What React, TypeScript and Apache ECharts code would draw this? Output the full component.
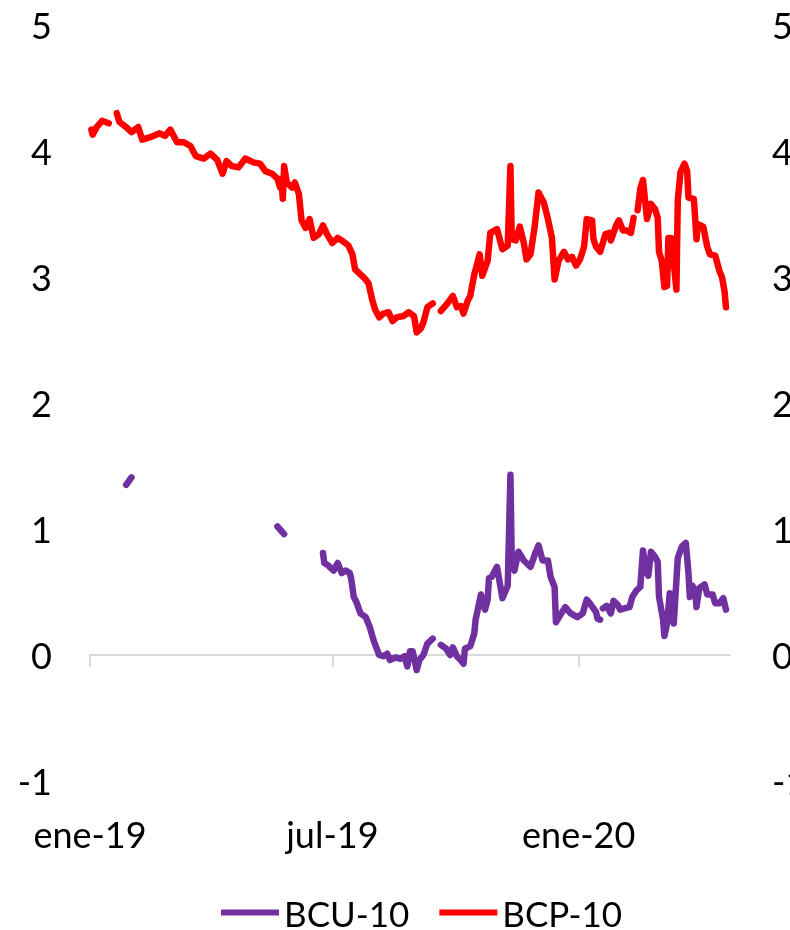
import React, { useRef, useEffect } from 'react';
import * as echarts from 'echarts';

// Series names and colours (legend order)
const seriesNames = ['BCU-10', 'BCP-10'];
const seriesColors = ['#7030A0', '#FF0000'];

// X axis: range and labelled ticks
const axisStart = '2019-01-01';
const axisEnd = '2020-04-23';
const xTickDates = ['2019-01-01', '2019-07-01', '2020-01-01'];
const xTickLabels = ['ene-19', 'jul-19', 'ene-20'];

// Y axis
const yMin = -1;
const yMax = 5;
const yStep = 1;

// BCU-10 (null = no data)
const bcu10: [string, number | null][] = [
  ['2019-01-28', 1.35], ['2019-02-01', 1.41], ['2019-02-10', null],
  ['2019-05-21', 1.02], ['2019-05-26', 0.96], ['2019-06-10', null],
  ['2019-06-24', 0.81], ['2019-06-25', 0.73], ['2019-06-28', 0.71], ['2019-07-02', 0.67],
  ['2019-07-05', 0.73], ['2019-07-08', 0.65], ['2019-07-11', 0.67], ['2019-07-14', 0.65],
  ['2019-07-15', 0.61], ['2019-07-17', 0.46], ['2019-07-19', 0.42], ['2019-07-22', 0.33],
  ['2019-07-26', 0.30], ['2019-07-29', 0.22], ['2019-08-01', 0.11], ['2019-08-05', 0.00],
  ['2019-08-08', -0.01], ['2019-08-11', 0.01], ['2019-08-13', -0.04], ['2019-08-17', -0.02],
  ['2019-08-21', -0.03], ['2019-08-24', -0.01], ['2019-08-26', -0.09], ['2019-08-28', 0.03],
  ['2019-08-30', 0.03], ['2019-09-02', -0.12], ['2019-09-04', -0.04], ['2019-09-07', 0.00],
  ['2019-09-10', 0.09], ['2019-09-14', 0.13], ['2019-09-17', null],
  ['2019-09-20', 0.08], ['2019-09-24', 0.05], ['2019-09-27', 0.00], ['2019-09-29', 0.06],
  ['2019-10-02', -0.01], ['2019-10-04', -0.03], ['2019-10-07', -0.07], ['2019-10-08', 0.05],
  ['2019-10-12', 0.07], ['2019-10-15', 0.17], ['2019-10-16', 0.28], ['2019-10-18', 0.38],
  ['2019-10-20', 0.48], ['2019-10-23', 0.36], ['2019-10-25', 0.44], ['2019-10-26', 0.61],
  ['2019-10-28', 0.62], ['2019-11-01', 0.70], ['2019-11-05', 0.45], ['2019-11-09', 0.55],
  ['2019-11-11', 1.43], ['2019-11-12', 0.75], ['2019-11-14', 0.67], ['2019-11-17', 0.82],
  ['2019-11-21', 0.75], ['2019-11-26', 0.70], ['2019-11-30', 0.82], ['2019-12-02', 0.87],
  ['2019-12-05', 0.75], ['2019-12-09', 0.75], ['2019-12-11', 0.62], ['2019-12-14', 0.54],
  ['2019-12-15', 0.26], ['2019-12-19', 0.33], ['2019-12-22', 0.38], ['2019-12-26', 0.33],
  ['2019-12-31', 0.30], ['2020-01-04', 0.33], ['2020-01-07', 0.44], ['2020-01-10', 0.40],
  ['2020-01-14', 0.34], ['2020-01-15', 0.29], ['2020-01-17', 0.28], ['2020-01-18', null],
  ['2020-01-19', 0.37], ['2020-01-22', 0.39], ['2020-01-25', 0.33], ['2020-01-27', 0.43],
  ['2020-01-30', 0.40], ['2020-02-01', 0.36], ['2020-02-04', 0.37], ['2020-02-08', 0.38],
  ['2020-02-10', 0.46], ['2020-02-13', 0.51], ['2020-02-16', 0.54], ['2020-02-18', 0.83],
  ['2020-02-20', 0.67], ['2020-02-22', 0.63], ['2020-02-24', 0.82], ['2020-02-27', 0.78],
  ['2020-02-29', 0.74], ['2020-03-01', 0.46], ['2020-03-04', 0.28], ['2020-03-05', 0.15],
  ['2020-03-07', 0.25], ['2020-03-09', 0.49], ['2020-03-11', 0.30], ['2020-03-12', 0.25],
  ['2020-03-15', 0.77], ['2020-03-18', 0.86], ['2020-03-21', 0.89], ['2020-03-23', 0.65],
  ['2020-03-24', 0.46], ['2020-03-26', 0.55], ['2020-03-28', 0.50], ['2020-03-29', 0.38],
  ['2020-03-31', 0.53], ['2020-04-04', 0.56], ['2020-04-06', 0.48], ['2020-04-10', 0.48],
  ['2020-04-12', 0.41], ['2020-04-15', 0.41], ['2020-04-18', 0.45], ['2020-04-20', 0.36],
];

// BCP-10 (null = no data)
const bcp10: [string, number | null][] = [
  ['2019-01-02', 4.17], ['2019-01-03', 4.13], ['2019-01-06', 4.19], ['2019-01-10', 4.24],
  ['2019-01-15', 4.22], ['2019-01-18', null],
  ['2019-01-21', 4.30], ['2019-01-23', 4.23], ['2019-01-28', 4.19], ['2019-02-01', 4.15],
  ['2019-02-06', 4.19], ['2019-02-09', 4.09], ['2019-02-15', 4.11], ['2019-02-22', 4.14],
  ['2019-02-26', 4.12], ['2019-03-02', 4.17], ['2019-03-07', 4.07], ['2019-03-12', 4.07],
  ['2019-03-17', 4.04], ['2019-03-21', 3.96], ['2019-03-27', 3.94], ['2019-04-01', 3.98],
  ['2019-04-06', 3.93], ['2019-04-10', 3.82], ['2019-04-13', 3.92], ['2019-04-17', 3.88],
  ['2019-04-22', 3.87], ['2019-04-27', 3.94], ['2019-05-03', 3.91], ['2019-05-08', 3.90],
  ['2019-05-12', 3.84], ['2019-05-17', 3.82], ['2019-05-21', 3.78], ['2019-05-23', 3.71],
  ['2019-05-24', 3.78], ['2019-05-25', 3.62], ['2019-05-26', 3.88], ['2019-05-28', 3.75],
  ['2019-06-01', 3.71], ['2019-06-03', 3.75], ['2019-06-06', 3.66], ['2019-06-08', 3.45],
  ['2019-06-11', 3.39], ['2019-06-14', 3.46], ['2019-06-17', 3.31], ['2019-06-21', 3.34],
  ['2019-06-24', 3.41], ['2019-06-27', 3.34], ['2019-07-01', 3.27], ['2019-07-05', 3.31],
  ['2019-07-08', 3.29], ['2019-07-13', 3.25], ['2019-07-16', 3.18], ['2019-07-18', 3.06],
  ['2019-07-22', 3.02], ['2019-07-26', 2.98], ['2019-07-28', 2.95], ['2019-07-31', 2.81],
  ['2019-08-02', 2.74], ['2019-08-05', 2.68], ['2019-08-08', 2.71], ['2019-08-12', 2.72],
  ['2019-08-15', 2.65], ['2019-08-18', 2.68], ['2019-08-23', 2.69], ['2019-08-27', 2.72],
  ['2019-08-31', 2.69], ['2019-09-02', 2.56], ['2019-09-05', 2.59], ['2019-09-07', 2.64],
  ['2019-09-10', 2.76], ['2019-09-14', 2.79], ['2019-09-17', null],
  ['2019-09-20', 2.73], ['2019-09-25', 2.79], ['2019-09-29', 2.85], ['2019-10-02', 2.76],
  ['2019-10-05', 2.77], ['2019-10-07', 2.71], ['2019-10-10', 2.81], ['2019-10-12', 2.85],
  ['2019-10-15', 3.02], ['2019-10-19', 3.18], ['2019-10-21', 3.01], ['2019-10-25', 3.13],
  ['2019-10-27', 3.35], ['2019-11-01', 3.38], ['2019-11-05', 3.22], ['2019-11-09', 3.25],
  ['2019-11-11', 3.88], ['2019-11-12', 3.30], ['2019-11-15', 3.29], ['2019-11-18', 3.40],
  ['2019-11-21', 3.27], ['2019-11-23', 3.14], ['2019-11-26', 3.18], ['2019-11-29', 3.39],
  ['2019-12-02', 3.67], ['2019-12-06', 3.59], ['2019-12-09', 3.46], ['2019-12-12', 3.31],
  ['2019-12-14', 2.98], ['2019-12-17', 3.13], ['2019-12-21', 3.20], ['2019-12-24', 3.14],
  ['2019-12-27', 3.16], ['2019-12-30', 3.09], ['2020-01-02', 3.14], ['2020-01-05', 3.24],
  ['2020-01-07', 3.46], ['2020-01-11', 3.45], ['2020-01-12', 3.30], ['2020-01-14', 3.24],
  ['2020-01-17', 3.20], ['2020-01-21', 3.34], ['2020-01-24', 3.35], ['2020-01-25', 3.29],
  ['2020-01-29', 3.41], ['2020-01-31', 3.45], ['2020-02-03', 3.37], ['2020-02-06', 3.37],
  ['2020-02-09', 3.35], ['2020-02-11', 3.47], ['2020-02-13', null],
  ['2020-02-14', 3.53], ['2020-02-16', 3.70], ['2020-02-18', 3.77], ['2020-02-21', 3.46],
  ['2020-02-24', 3.58], ['2020-02-27', 3.54], ['2020-02-29', 3.47], ['2020-03-01', 3.20],
  ['2020-03-03', 3.13], ['2020-03-05', 2.92], ['2020-03-07', 2.93], ['2020-03-08', 3.31],
  ['2020-03-10', 3.31], ['2020-03-14', 2.90], ['2020-03-15', 3.61], ['2020-03-17', 3.83],
  ['2020-03-20', 3.90], ['2020-03-22', 3.84], ['2020-03-23', 3.63], ['2020-03-27', 3.62],
  ['2020-03-29', 3.30], ['2020-03-30', 3.42], ['2020-04-03', 3.40], ['2020-04-06', 3.24],
  ['2020-04-08', 3.18], ['2020-04-12', 3.17], ['2020-04-15', 3.05], ['2020-04-17', 3.00],
  ['2020-04-19', 2.88], ['2020-04-20', 2.76],
];

const FONT = 'Lato';
const toTs = (d: string) => Date.parse(d + 'T00:00:00Z');
const toSeries = (rows: [string, number | null][]) =>
  rows.map(([d, v]) => [toTs(d), v === null ? '-' : v]);

const App = () => {
  const chartRef = useRef<HTMLDivElement>(null);

  useEffect(() => {
    const chart = echarts.init(chartRef.current, null, { renderer: 'svg' });
    const tickTs = xTickDates.map(toTs);
    const labelFor = (v: number) => {
      const i = tickTs.indexOf(v);
      return i >= 0 ? xTickLabels[i] : '';
    };
    const yLabel = {
      fontSize: 36,
      fontFamily: FONT,
      color: '#000',
    };
    const xRange = { type: 'value', min: toTs(axisStart), max: toTs(axisEnd), splitLine: { show: false } };

    chart.setOption({
      animation: false,
      grid: { left: 90, right: 60, top: 25, bottom: 149, outerBoundsMode: 'none', containLabel: false },
      legend: {
        data: seriesNames,
        left: 216,
        top: 890,
        icon: 'rect',
        itemWidth: 58,
        itemHeight: 6,
        itemGap: 30,
        textStyle: { fontSize: 35, fontFamily: FONT, color: '#000' },
      },
      xAxis: [
        {
          // axis line at zero with tick marks
          ...xRange,
          position: 'bottom',
          axisLine: { onZero: true, lineStyle: { color: '#d9d9d9', width: 2 } },
          axisTick: {
            show: true,
            customValues: tickTs,
            length: 12,
            lineStyle: { color: '#d9d9d9', width: 2 },
          },
          axisLabel: { show: false },
        },
        {
          // date labels at the bottom of the plot
          ...xRange,
          position: 'bottom',
          axisLine: { show: false, onZero: false },
          axisTick: { show: false },
          axisLabel: {
            customValues: tickTs,
            formatter: labelFor,
            margin: 35,
            fontSize: 36,
            fontFamily: FONT,
            color: '#000',
          },
        },
      ],
      yAxis: [
        {
          type: 'value',
          position: 'left',
          min: yMin,
          max: yMax,
          interval: yStep,
          splitLine: { show: false },
          axisLine: { show: false },
          axisTick: { show: false },
          axisLabel: { ...yLabel, margin: 38 },
        },
        {
          type: 'value',
          position: 'right',
          min: yMin,
          max: yMax,
          interval: yStep,
          splitLine: { show: false },
          axisLine: { show: false },
          axisTick: { show: false },
          axisLabel: { ...yLabel, margin: 42 },
        },
      ],
      series: [bcu10, bcp10].map((rows, i) => ({
        name: seriesNames[i],
        type: 'line',
        xAxisIndex: 0,
        yAxisIndex: 0,
        data: toSeries(rows),
        showSymbol: false,
        symbol: 'none',
        connectNulls: false,
        color: seriesColors[i],
        lineStyle: { color: seriesColors[i], width: 6.5, cap: 'round', join: 'round' },
      })),
    });

    return () => {
      chart.dispose();
    };
  }, []);

  return (
    <div
      ref={chartRef}
      style={{ position: 'fixed', left: 0, top: 0, width: '790px', height: '930px' }}
    />
  );
};

export default App;
